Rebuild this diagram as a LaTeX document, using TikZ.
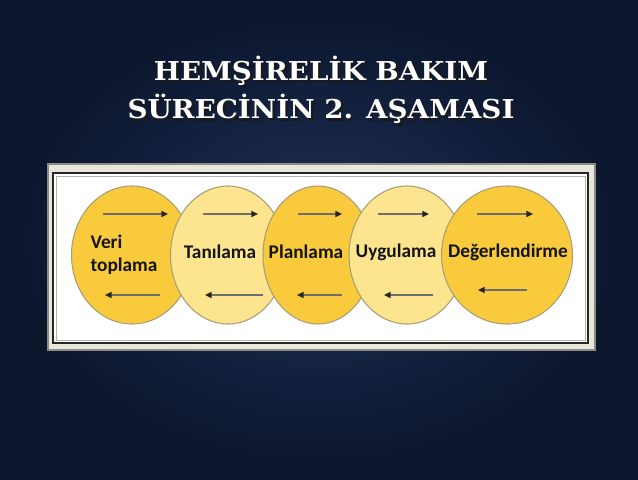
\documentclass[tikz,border=0pt]{standalone}
\usepackage{fontspec}
\setmainfont{Carlito}
\newfontfamily\titlefont{DejaVu Serif}
\usetikzlibrary{shapes.geometric,arrows.meta}

\definecolor{bgin}{RGB}{30,49,88}
\definecolor{bgout}{RGB}{11,21,43}
\definecolor{darkyel}{RGB}{249,203,60}
\definecolor{lightyel}{RGB}{252,229,142}
\definecolor{rimgray}{RGB}{168,158,120}
\definecolor{framecream}{RGB}{233,231,220}
\definecolor{framegray}{RGB}{140,140,132}
\definecolor{arrowgray}{RGB}{110,110,110}

\tikzset{
  phase/.style={ellipse, draw=rimgray, line width=0.8pt, minimum height=103.5pt, inner sep=0pt},
  phaselabel/.style={font=\bfseries\fontsize{14.5pt}{17pt}\selectfont, text=black!92, align=left, inner sep=0pt},
  flow/.style={draw=arrowgray, line width=1.1pt, -{Triangle[length=5pt,width=4.5pt,color=black!85]}},
  titletext/.style={font=\titlefont\bfseries\fontsize{19.5pt}{29pt}\selectfont, align=center, inner sep=0pt, xscale=1.067, transform shape}
}

\begin{document}
\begin{tikzpicture}[x=0.75pt,y=-0.75pt]
	\useasboundingbox (0,0) rectangle (638,479);
	\shade[inner color=bgin, outer color=bgout] (0,0) rectangle (638,479);
	
	% title, with its shadow
	\node[titletext, text=black!90] (titleshadow) at (323.5,92.5) {HEMŞİRELİK BAKIM\\SÜRECİNİN 2. AŞAMASI};
	\node[titletext, text=white] (title) at (321,90) {HEMŞİRELİK BAKIM\\SÜRECİNİN 2. AŞAMASI};
	
	% frame
	\draw[draw=framegray, fill=framecream, line width=1.5pt] (48,164) rectangle (595,350);
	\draw[draw=black!85, fill=white, line width=1.5pt] (53,173) rectangle (588,343);
	\draw[draw=gray!60, line width=0.5pt] (56,176) rectangle (585,340);
	
	% the five phases, each drawn over the one before
	\foreach \n/\cx/\w/\col in {1/132/121/darkyel, 2/228/115/lightyel, 3/318/110/darkyel, 4/407/116/lightyel, 5/507/131/darkyel}{
		\node[phase, fill=\col, minimum width=\w*0.75pt] (c\n) at (\cx,255) {};
	}
	
	% forward and backward arrows
	\foreach \n/\ta/\tb/\ba/\bb/\by in {1/-29/36/28/-27/40, 2/-25/30/35/-23/40, 3/-20/24/24/-21/40, 4/-29/22/26/-23/40, 5/-30/26/20/-29/35}{
		\draw[flow] ([shift={(\ta,-41)}]c\n.center) -- ([shift={(\tb,-41)}]c\n.center);
		\draw[flow] ([shift={(\ba,\by)}]c\n.center) -- ([shift={(\bb,\by)}]c\n.center);
	}
	
	\node[phaselabel] (t1) at ([shift={(-8,0)}]c1.center) {Veri\\toplama};
	\node[phaselabel] (t2) at ([shift={(-8,-3)}]c2.center) {Tanılama};
	\node[phaselabel] (t3) at ([shift={(-12,-3)}]c3.center) {Planlama};
	\node[phaselabel] (t4) at ([shift={(-11,-3)}]c4.center) {Uygulama};
	\node[phaselabel] (t5) at ([shift={(1,-3)}]c5.center) {Değerlendirme};
\end{tikzpicture}
\end{document}
